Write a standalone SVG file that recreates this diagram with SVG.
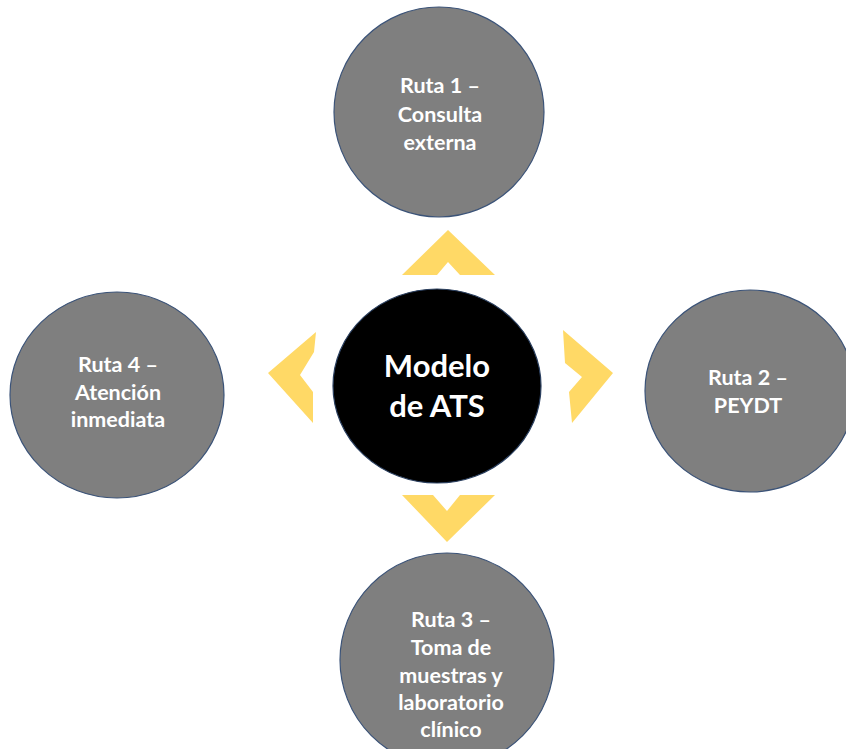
<svg xmlns="http://www.w3.org/2000/svg" width="846" height="749" viewBox="0 0 846 749">
  <style>
    .route { fill: #7f7f7f; stroke: #3b5378; stroke-width: 1.2; }
    .hub { fill: #000000; stroke: #2a3f5f; stroke-width: 1.2; }
    .chevron { fill: #ffd966; }
    .label { font-family: Lato, "Liberation Sans", sans-serif; font-weight: bold; fill: #ffffff; text-anchor: middle; }
    .small { font-size: 21.5px; }
    .big { font-size: 31px; }
  </style>
  <rect width="846" height="749" fill="#ffffff"/>

  <!-- connectors: chevrons pointing outward from the hub -->
  <g id="connectors">
    <polygon class="chevron" points="448,230 495,275 460,275 448,262 437,275 402,275"/>
    <polygon class="chevron" points="268,373 316,332 314,352 300,375 313,392 313,423"/>
    <polygon class="chevron" points="563,330 613,373 572,423 569,392 582,377 565,363"/>
    <polygon class="chevron" points="402,495 433,495 447,511 460,495 495,495 447,542"/>
  </g>

  <g id="hub">
    <ellipse class="hub" cx="437" cy="386" rx="104" ry="97"/>
    <text class="label big" x="437" y="377">Modelo</text>
    <text class="label big" x="437" y="417">de ATS</text>
  </g>

  <g id="route1">
    <ellipse class="route" cx="439" cy="112" rx="105" ry="105"/>
    <text class="label small" x="440" y="93">Ruta 1 –</text>
    <text class="label small" x="440" y="122">Consulta</text>
    <text class="label small" x="440" y="150">externa</text>
  </g>

  <g id="route2">
    <ellipse class="route" cx="750" cy="391" rx="105" ry="101"/>
    <text class="label small" x="748" y="385">Ruta 2 –</text>
    <text class="label small" x="748" y="413">PEYDT</text>
  </g>

  <g id="route3">
    <ellipse class="route" cx="447" cy="660" rx="107" ry="107"/>
    <text class="label small" x="451" y="627">Ruta 3 –</text>
    <text class="label small" x="451" y="655">Toma de</text>
    <text class="label small" x="451" y="683">muestras y</text>
    <text class="label small" x="451" y="710">laboratorio</text>
    <text class="label small" x="451" y="737">clínico</text>
  </g>

  <g id="route4">
    <ellipse class="route" cx="117" cy="395" rx="107" ry="103"/>
    <text class="label small" x="118" y="372">Ruta 4 –</text>
    <text class="label small" x="118" y="400">Atención</text>
    <text class="label small" x="118" y="427">inmediata</text>
  </g>
</svg>
